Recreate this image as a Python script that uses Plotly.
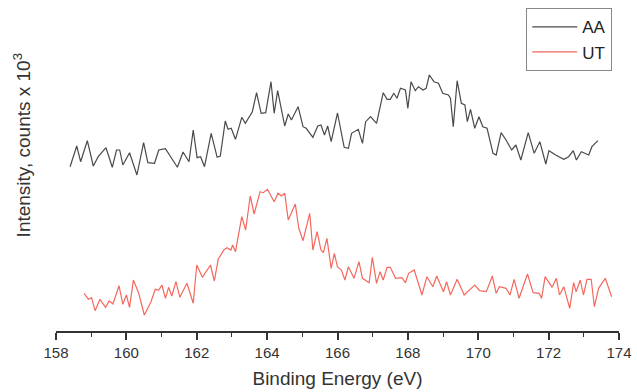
import plotly.graph_objects as go

# Binding energy (eV) and intensity (counts x 10^3, arbitrary offset)
aa_energy = [158.40, 158.59, 158.70, 158.89, 159.06, 159.20, 159.42, 159.60, 159.72, 159.81,
             159.90, 160.09, 160.30, 160.49, 160.61, 160.80, 160.92, 161.11, 161.45, 161.61,
             161.78, 161.90, 162.01, 162.11, 162.22, 162.41, 162.58, 162.67, 162.81, 162.89,
             162.98, 163.10, 163.28, 163.38, 163.58, 163.70, 163.83, 163.96, 164.11, 164.20,
             164.30, 164.50, 164.60, 164.69, 164.88, 165.02, 165.11, 165.30, 165.44, 165.53,
             165.63, 165.72, 165.82, 166.00, 166.19, 166.31, 166.40, 166.59, 166.71, 166.80,
             166.94, 167.11, 167.30, 167.41, 167.50, 167.60, 167.69, 167.79, 167.93, 168.00,
             168.09, 168.21, 168.30, 168.43, 168.52, 168.61, 168.74, 168.87, 168.99, 169.15,
             169.21, 169.29, 169.40, 169.52, 169.62, 169.69, 169.78, 169.90, 170.02, 170.13,
             170.25, 170.42, 170.51, 170.65, 170.79, 170.95, 171.07, 171.21, 171.42, 171.59,
             171.75, 171.92, 172.01, 172.20, 172.43, 172.57, 172.70, 172.79, 172.93, 173.14,
             173.23, 173.40]
aa_counts = [16.93, 19.00, 17.43, 19.53, 17.00, 17.93, 18.83, 16.87, 18.60, 18.60,
             17.10, 18.33, 16.10, 19.33, 17.33, 17.27, 18.60, 18.73, 16.87, 18.40,
             17.43, 20.60, 17.83, 17.93, 16.93, 20.27, 17.87, 18.00, 21.50, 20.67,
             20.77, 19.67, 21.87, 21.27, 22.43, 24.33, 22.27, 22.33, 25.43, 22.27,
             24.53, 21.00, 22.20, 21.60, 22.93, 20.93, 20.77, 19.87, 21.00, 21.10,
             20.10, 21.00, 19.43, 22.30, 18.87, 18.77, 20.27, 20.67, 19.27, 21.43,
             21.93, 21.27, 24.33, 23.67, 23.67, 24.27, 23.77, 24.77, 24.60, 22.77,
             25.43, 24.53, 24.93, 24.60, 24.77, 26.10, 25.43, 25.27, 24.27, 24.10,
             23.77, 20.93, 25.53, 23.27, 23.10, 21.43, 22.67, 20.77, 21.93, 20.93,
             20.77, 18.27, 18.10, 20.33, 19.60, 18.60, 19.10, 17.60, 20.33, 18.27,
             19.43, 17.20, 18.53, 18.10, 17.67, 17.93, 18.53, 17.60, 18.43, 18.10,
             18.93, 19.53]

ut_energy = [158.80, 158.92, 159.01, 159.11, 159.25, 159.41, 159.51, 159.62, 159.79, 159.90,
             160.00, 160.09, 160.20, 160.35, 160.51, 160.70, 160.82, 160.92, 161.01, 161.11,
             161.20, 161.29, 161.41, 161.52, 161.72, 161.90, 162.00, 162.16, 162.39, 162.50,
             162.61, 162.77, 162.86, 162.97, 163.02, 163.10, 163.28, 163.39, 163.52, 163.63,
             163.80, 163.89, 164.01, 164.20, 164.31, 164.41, 164.50, 164.60, 164.80, 164.90,
             165.02, 165.21, 165.30, 165.42, 165.53, 165.60, 165.70, 165.82, 165.91, 166.00,
             166.11, 166.21, 166.31, 166.47, 166.61, 166.71, 166.90, 166.99, 167.11, 167.21,
             167.30, 167.41, 167.50, 167.65, 167.83, 167.93, 168.02, 168.18, 168.40, 168.54,
             168.71, 168.82, 169.01, 169.10, 169.21, 169.40, 169.60, 169.76, 169.90, 170.04,
             170.23, 170.40, 170.51, 170.60, 170.79, 170.90, 171.02, 171.16, 171.40, 171.56,
             171.73, 171.80, 171.90, 172.10, 172.22, 172.31, 172.43, 172.60, 172.71, 172.78,
             172.90, 172.99, 173.09, 173.21, 173.30, 173.42, 173.61, 173.79]
ut_counts = [4.27, 3.67, 3.83, 2.53, 3.67, 2.87, 3.50, 3.20, 5.03, 3.17,
             4.10, 2.87, 5.60, 4.27, 2.10, 3.43, 4.67, 4.60, 5.10, 3.77,
             4.87, 4.00, 5.43, 3.87, 5.27, 3.27, 7.10, 5.87, 7.10, 5.50,
             7.67, 8.60, 8.83, 8.60, 9.10, 8.43, 11.93, 10.60, 14.00, 12.20,
             14.43, 14.33, 14.67, 13.43, 14.27, 14.00, 14.27, 11.60, 13.20, 10.77,
             9.53, 12.27, 8.60, 10.43, 8.60, 8.33, 9.77, 6.77, 8.27, 6.90,
             6.60, 5.60, 6.93, 5.77, 7.43, 5.77, 5.33, 7.87, 5.27, 6.43,
             5.60, 6.87, 6.87, 5.77, 5.83, 5.33, 6.27, 6.60, 4.10, 5.93,
             4.93, 6.00, 4.43, 5.43, 4.10, 5.67, 4.10, 4.60, 5.10, 4.53,
             4.43, 6.00, 4.27, 4.93, 4.77, 4.10, 5.67, 3.77, 6.20, 4.33,
             4.27, 3.77, 5.93, 4.87, 5.77, 4.10, 4.93, 2.77, 5.33, 4.43,
             5.60, 4.10, 5.67, 5.67, 2.93, 4.77, 5.77, 3.93]

x_ticks = [158, 160, 162, 164, 166, 168, 170, 172, 174]

FONT = "Liberation Sans, Arial, sans-serif"

fig = go.Figure()
fig.add_trace(go.Scatter(x=aa_energy, y=aa_counts, mode="lines", name="AA",
                         line=dict(color="#4a4a4a", width=1.2)))
fig.add_trace(go.Scatter(x=ut_energy, y=ut_counts, mode="lines", name="UT",
                         line=dict(color="#f4685e", width=1.2)))

fig.update_layout(
    width=637, height=392,
    margin=dict(l=56, r=13, t=5, b=61),
    paper_bgcolor="white", plot_bgcolor="white",
    font=dict(family=FONT, color="#333333"),
    showlegend=True,
    legend=dict(x=0.988, y=0.99, xanchor="right", yanchor="top",
                bgcolor="white", bordercolor="#888888", borderwidth=1,
                itemwidth=45,
                font=dict(size=17, color="#222222"), tracegroupgap=0),
    xaxis=dict(range=[158, 174], tickvals=x_ticks, ticktext=[str(t) for t in x_ticks],
               showline=True, linecolor="#333333", linewidth=1.5,
               ticks="outside", ticklen=7, tickwidth=1.5, tickcolor="#333333",
               minor=dict(dtick=1, ticks="outside", ticklen=4, tickwidth=1.3, tickcolor="#333333"),
               showgrid=False, zeroline=False,
               tickfont=dict(size=15, color="#333333"),
               title=dict(text="Binding Energy (eV)", font=dict(size=19, color="#333333"), standoff=12)),
    yaxis=dict(range=[0.5, 33.1], showline=False, showticklabels=False, ticks="",
               showgrid=False, zeroline=False),
    annotations=[dict(text="Intensity, counts x 10<sup>3</sup>", textangle=-90,
                      xref="paper", yref="paper", x=-0.06, y=0.57,
                      xanchor="center", yanchor="middle", showarrow=False,
                      font=dict(size=19, color="#333333"))],
)

fig.write_html("out.html")
